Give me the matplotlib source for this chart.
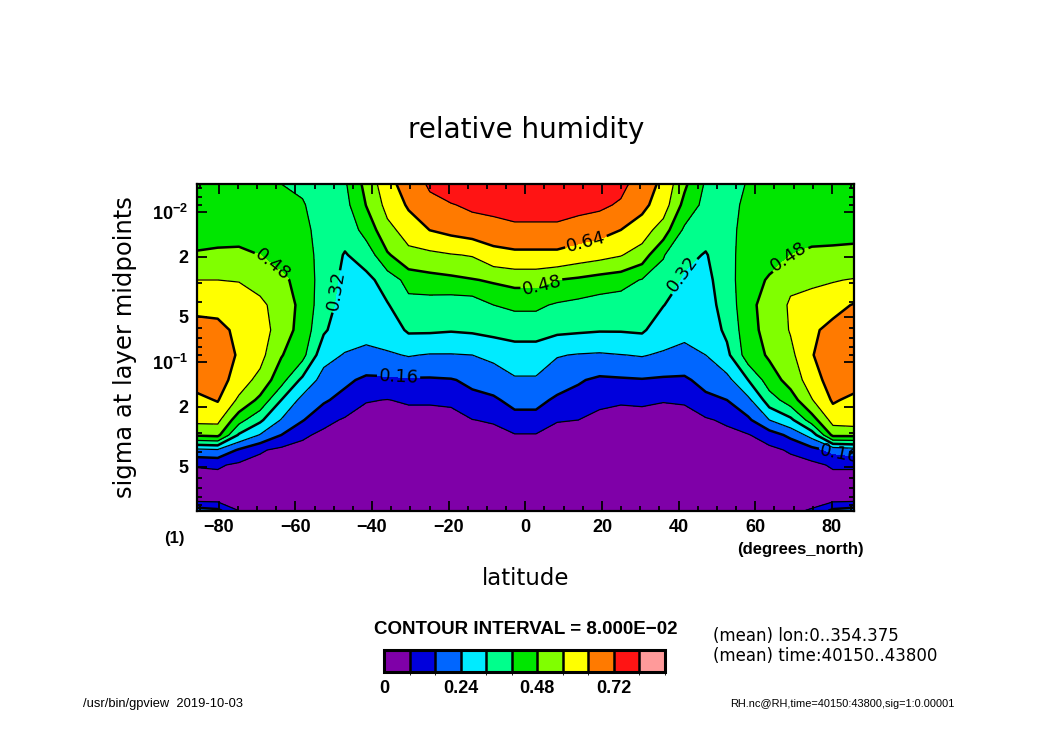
import numpy as np
import matplotlib
matplotlib.use('Agg')
from matplotlib import pyplot as plt
from matplotlib import colors as mcolors
import matplotlib.colorbar as mcbar


## data: zonal/time mean relative humidity, T21 gaussian latitudes x sigma
lat = [-85.76, -80.27, -74.74, -69.21, -63.68, -58.14, -52.61, -47.07,
       -41.53, -36.00, -30.46, -24.92, -19.38, -13.84, -8.31, -2.77,
       2.77, 8.31, 13.84, 19.38, 24.92, 30.46, 36.00, 41.53,
       47.07, 52.61, 58.14, 63.68, 69.21, 74.74, 80.27, 85.76]

sig = [0.00654, 0.00902, 0.01324, 0.01944, 0.02853, 0.04188, 0.06148, 0.09023,
       0.1324, 0.1801, 0.2447, 0.3081, 0.3879, 0.4883, 0.6637, 0.8103, 0.9848]

# one row per latitude, values from the top level (small sigma) down to the surface
rh = [
    [0.43, 0.44, 0.46, 0.485, 0.56, 0.62, 0.67, 0.69, 0.67, 0.62, 0.58, 0.49, 0.22, 0.085, 0.04, 0.04, 0.20],
    [0.43, 0.44, 0.46, 0.49, 0.56, 0.615, 0.665, 0.69, 0.68, 0.645, 0.58, 0.50, 0.23, 0.09, 0.04, 0.04, 0.18],
    [0.42, 0.435, 0.455, 0.495, 0.557, 0.60, 0.62, 0.63, 0.60, 0.545, 0.43, 0.31, 0.15, 0.065, 0.04, 0.04, 0.08],
    [0.415, 0.43, 0.45, 0.48, 0.53, 0.58, 0.60, 0.585, 0.535, 0.46, 0.335, 0.235, 0.09, 0.05, 0.035, 0.035, 0.05],
    [0.40, 0.41, 0.43, 0.455, 0.495, 0.52, 0.52, 0.485, 0.43, 0.32, 0.235, 0.16, 0.06, 0.03, 0.03, 0.03, 0.03],
    [0.39, 0.405, 0.42, 0.44, 0.455, 0.46, 0.45, 0.425, 0.30, 0.215, 0.165, 0.095, 0.05, 0.03, 0.03, 0.03, 0.03],
    [0.37, 0.37, 0.37, 0.365, 0.36, 0.35, 0.33, 0.265, 0.21, 0.17, 0.105, 0.06, 0.03, 0.02, 0.02, 0.02, 0.02],
    [0.39, 0.375, 0.345, 0.315, 0.30, 0.29, 0.275, 0.235, 0.175, 0.135, 0.07, 0.04, 0.02, 0.01, 0.01, 0.01, 0.01],
    [0.505, 0.482, 0.43, 0.35, 0.30, 0.29, 0.27, 0.215, 0.145, 0.085, 0.045, 0.03, 0.02, 0.01, 0.01, 0.01, 0.01],
    [0.61, 0.585, 0.535, 0.47, 0.35, 0.315, 0.28, 0.23, 0.145, 0.078, 0.04, 0.02, 0.02, 0.01, 0.01, 0.01, 0.01],
    [0.68, 0.65, 0.595, 0.535, 0.43, 0.37, 0.33, 0.245, 0.15, 0.09, 0.045, 0.02, 0.02, 0.01, 0.01, 0.01, 0.01],
    [0.73, 0.70, 0.641, 0.54, 0.45, 0.36, 0.33, 0.235, 0.15, 0.09, 0.045, 0.02, 0.02, 0.01, 0.01, 0.01, 0.01],
    [0.765, 0.715, 0.66, 0.555, 0.46, 0.35, 0.325, 0.235, 0.155, 0.095, 0.05, 0.02, 0.02, 0.01, 0.01, 0.01, 0.01],
    [0.775, 0.735, 0.675, 0.565, 0.475, 0.35, 0.33, 0.24, 0.175, 0.14, 0.078, 0.04, 0.02, 0.01, 0.01, 0.01, 0.01],
    [0.785, 0.745, 0.685, 0.61, 0.49, 0.40, 0.34, 0.26, 0.19, 0.15, 0.09, 0.05, 0.02, 0.01, 0.01, 0.01, 0.01],
    [0.79, 0.755, 0.70, 0.62, 0.505, 0.415, 0.345, 0.285, 0.23, 0.18, 0.135, 0.075, 0.03, 0.02, 0.01, 0.01, 0.01],
    [0.79, 0.755, 0.70, 0.62, 0.505, 0.415, 0.345, 0.285, 0.23, 0.18, 0.135, 0.075, 0.03, 0.02, 0.01, 0.01, 0.01],
    [0.79, 0.755, 0.70, 0.62, 0.48, 0.39, 0.335, 0.245, 0.19, 0.148, 0.085, 0.05, 0.02, 0.01, 0.01, 0.01, 0.01],
    [0.785, 0.745, 0.68, 0.60, 0.465, 0.375, 0.33, 0.235, 0.168, 0.13, 0.08, 0.04, 0.02, 0.01, 0.01, 0.01, 0.01],
    [0.775, 0.735, 0.665, 0.585, 0.445, 0.36, 0.325, 0.23, 0.145, 0.10, 0.055, 0.03, 0.02, 0.01, 0.01, 0.01, 0.01],
    [0.74, 0.71, 0.64, 0.565, 0.43, 0.355, 0.325, 0.238, 0.15, 0.09, 0.045, 0.02, 0.02, 0.01, 0.01, 0.01, 0.01],
    [0.685, 0.66, 0.60, 0.52, 0.395, 0.35, 0.33, 0.245, 0.155, 0.095, 0.045, 0.02, 0.02, 0.01, 0.01, 0.01, 0.01],
    [0.62, 0.60, 0.52, 0.405, 0.37, 0.322, 0.28, 0.23, 0.148, 0.085, 0.04, 0.02, 0.02, 0.01, 0.01, 0.01, 0.01],
    [0.495, 0.455, 0.385, 0.34, 0.305, 0.29, 0.265, 0.21, 0.148, 0.09, 0.045, 0.02, 0.02, 0.01, 0.01, 0.01, 0.01],
    [0.39, 0.375, 0.345, 0.315, 0.30, 0.29, 0.275, 0.24, 0.185, 0.14, 0.07, 0.04, 0.02, 0.01, 0.01, 0.01, 0.01],
    [0.37, 0.37, 0.37, 0.365, 0.36, 0.35, 0.335, 0.30, 0.215, 0.16, 0.095, 0.055, 0.02, 0.02, 0.02, 0.02, 0.02],
    [0.405, 0.42, 0.435, 0.45, 0.46, 0.46, 0.45, 0.44, 0.32, 0.22, 0.145, 0.075, 0.03, 0.03, 0.03, 0.03, 0.03],
    [0.42, 0.43, 0.445, 0.465, 0.485, 0.51, 0.51, 0.49, 0.44, 0.36, 0.24, 0.12, 0.06, 0.04, 0.03, 0.03, 0.03],
    [0.43, 0.44, 0.455, 0.48, 0.545, 0.57, 0.565, 0.54, 0.51, 0.44, 0.30, 0.18, 0.09, 0.05, 0.04, 0.04, 0.06],
    [0.425, 0.435, 0.455, 0.495, 0.545, 0.595, 0.625, 0.635, 0.60, 0.555, 0.44, 0.27, 0.13, 0.06, 0.04, 0.04, 0.09],
    [0.43, 0.44, 0.46, 0.495, 0.555, 0.615, 0.665, 0.69, 0.68, 0.65, 0.59, 0.50, 0.18, 0.09, 0.04, 0.04, 0.18],
    [0.435, 0.445, 0.465, 0.495, 0.565, 0.645, 0.685, 0.70, 0.675, 0.62, 0.60, 0.50, 0.20, 0.09, 0.04, 0.04, 0.20],
]

levels = [0.0, 0.08, 0.16, 0.24, 0.32, 0.40, 0.48, 0.56, 0.64, 0.72, 0.80, 0.88]
fill_colors = ['#7f00a8', '#0000dc', '#0066ff', '#00ebff', '#00ff8c', '#00e600',
               '#80ff00', '#ffff00', '#ff7a00', '#ff1414', '#ff9a9a']
thin_levels = [0.08, 0.24, 0.40, 0.56, 0.72]
thick_levels = [0.16, 0.32, 0.48, 0.64]
cbar_ticks = [0.0, 0.24, 0.48, 0.72]
cbar_ticklabels = ['0', '0.24', '0.48', '0.72']


## fonts
plt.rcParams['font.family'] = ['Liberation Sans', 'DejaVu Sans']
plt.rcParams['font.weight'] = 'bold'
plt.rcParams['mathtext.fontset'] = 'custom'
plt.rcParams['mathtext.rm'] = 'Liberation Sans:bold'
plt.rcParams['mathtext.default'] = 'rm'

fig = plt.figure(figsize=(10.5, 7.42), dpi=100)
ax = fig.add_axes([0.1873, 0.3117, 0.626, 0.4403])
ax.set_yscale('log')
ax.set_xlim(-85.76, 85.76)
ax.set_ylim(0.9848, 0.00654)

Z = np.array(rh).T
ax.contourf(lat, sig, Z, levels=levels, colors=fill_colors)
ax.contour(lat, sig, Z, levels=thin_levels, colors='k', linewidths=0.9)
cs = ax.contour(lat, sig, Z, levels=thick_levels, colors='k', linewidths=1.8)

# where the labels sit along the thick lines (lat, sigma)
label_pos = [(-66, 0.0227), (-50, 0.0333), (4, 0.0299), (16, 0.0165),
             (40, 0.0253), (70, 0.0216), (-33, 0.119), (82, 0.419)]
ax.clabel(cs, manual=label_pos, fmt='%.2f', inline=True, inline_spacing=4,
          fontsize=13)
for t in cs.labelTexts:
    t.set_family('DejaVu Sans')
    t.set_weight('normal')

ax.set_xlim(-85.76, 85.76)
ax.set_ylim(0.9848, 0.00654)
ax.set_xticks([-80, -60, -40, -20, 0, 20, 40, 60, 80])
ax.set_xticks(np.arange(-85, 86, 5), minor=True)
ax.set_yticks([0.01, 0.02, 0.05, 0.1, 0.2, 0.5])
ax.set_yticklabels(['$10^{-2}$', '2', '5', '$10^{-1}$', '2', '5'])
ax.set_yticks([0.007, 0.008, 0.009, 0.03, 0.04, 0.06, 0.07, 0.08, 0.09,
               0.3, 0.4, 0.6, 0.7, 0.8, 0.9], minor=True)
ax.yaxis.set_minor_formatter(matplotlib.ticker.NullFormatter())
ax.tick_params(which='both', direction='in', top=True, right=True, width=1.3,
               labelsize=13)
ax.tick_params(which='major', length=7, pad=6)
ax.tick_params(which='minor', length=3.5)
for s in ax.spines.values():
    s.set_linewidth(1.6)

## texts
fig.text(0.501, 0.8248, 'relative humidity', ha='center', va='center',
         fontsize=20, family='DejaVu Sans', weight='normal')
fig.text(0.501, 0.2197, 'latitude', ha='center', va='center',
         fontsize=16.5, family='DejaVu Sans', weight='normal')
fig.text(0.119, 0.532, 'sigma at layer midpoints', ha='center', va='center',
         rotation=90, fontsize=17.5, family='DejaVu Sans', weight='normal')
fig.text(0.1657, 0.2736, '(1)', ha='center', va='center', fontsize=12)
fig.text(0.762, 0.2588, '(degrees_north)', ha='center', va='center', fontsize=12)
fig.text(0.501, 0.151, 'CONTOUR INTERVAL = 8.000E\u221202', ha='center', va='center',
         fontsize=13.5)
fig.text(0.679, 0.1429, '(mean) lon:0..354.375', ha='left', va='center',
         fontsize=12, family='DejaVu Sans', weight='normal')
fig.text(0.679, 0.1159, '(mean) time:40150..43800', ha='left', va='center',
         fontsize=12, family='DejaVu Sans', weight='normal')
fig.text(0.079, 0.0512, '/usr/bin/gpview  2019-10-03', ha='left', va='center',
         fontsize=9.3, weight='normal')
fig.text(0.9095, 0.0512, 'RH.nc@RH,time=40150:43800,sig=1:0.00001', ha='right',
         va='center', fontsize=7.9, weight='normal')

## colour bar
cax = fig.add_axes([0.3657, 0.0943, 0.2676, 0.0296])
cmap = mcolors.ListedColormap(fill_colors)
norm = mcolors.BoundaryNorm(levels, cmap.N)
cb = mcbar.ColorbarBase(cax, cmap=cmap, norm=norm, boundaries=levels,
                        ticks=cbar_ticks, orientation='horizontal', drawedges=True)
cb.set_ticklabels(cbar_ticklabels)
cb.outline.set_linewidth(2.2)
cb.dividers.set_linewidth(1.8)
cax.tick_params(length=0, labelsize=13, pad=6)

plt.savefig('out.png', dpi=100)
